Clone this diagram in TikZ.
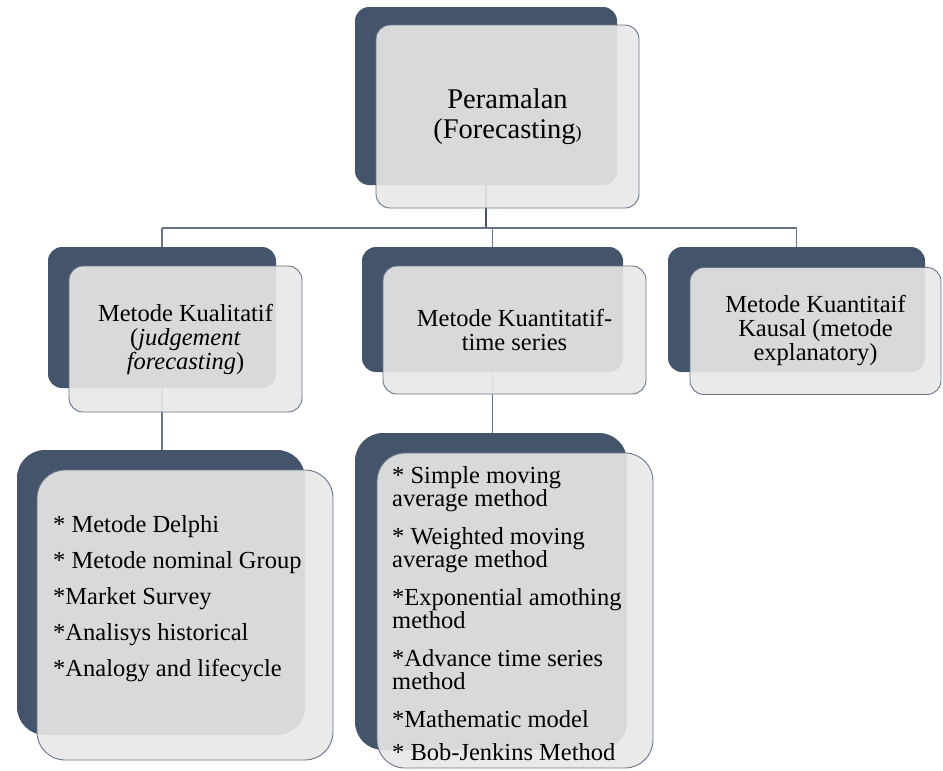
\documentclass[tikz,border=0pt]{standalone}
\usepackage{fontspec}
\setmainfont{LiberationSerif}[Extension=.ttf, UprightFont=*-Regular, ItalicFont=*-Italic, BoldFont=*-Bold]
\definecolor{slate}{RGB}{68,84,106}
\definecolor{paper}{RGB}{232,232,232}
\definecolor{rim}{RGB}{104,116,134}
\tikzset{
  backbox/.style={fill=slate, inner sep=0pt, rounded corners=14pt},
  frontbox/.style={fill=paper, fill opacity=0.9, text opacity=1, draw=rim,
    line width=0.9pt, inner sep=0pt, rounded corners=14pt, align=center,
    font=\fontsize{24.5}{24}\selectfont},
  bigcorner/.style={rounded corners=28pt},
  listtext/.style={inner sep=0pt, align=left, font=\fontsize{24.5}{23}\selectfont},
  link/.style={draw=rim, line width=1.2pt},
  stem/.style={draw=slate, line width=2.5pt}
}
\begin{document}
\begin{tikzpicture}[x=1pt, y=-1pt]
  \useasboundingbox (0,0) rectangle (943,771);
  % dark back plates
  \node[backbox, minimum width=262pt, minimum height=178pt] (root) at (486,96) {};
  \node[backbox, minimum width=228pt, minimum height=141pt] (qual) at (162,317.5) {};
  \node[backbox, minimum width=261pt, minimum height=125pt] (series) at (492.5,309.5) {};
  \node[backbox, minimum width=257pt, minimum height=125pt] (kausal) at (796.5,309.5) {};
  \node[backbox, bigcorner, minimum width=288pt, minimum height=285pt] (qualList) at (161,592.5) {};
  \node[backbox, bigcorner, minimum width=272pt, minimum height=317pt] (seriesList) at (491,591.5) {};
  % connectors
  \coordinate (bar) at (0,228);
  \draw[stem] (root.south) -- (root.south |- bar);
  \draw[link] (qual.north |- bar) -- (kausal.north |- bar);
  \draw[link] (qual.north |- bar) -- (qual.north);
  \draw[link] (series.north |- bar) -- (series.north);
  \draw[link] (kausal.north |- bar) -- (kausal.north);
  \draw[link] (qual.south) -- (qual.south |- qualList.north);
  \draw[link] (series.south) -- (series.south |- seriesList.north);
  % light front plates
  \node[frontbox, font=\fontsize{28.5}{30}\selectfont, minimum width=263pt, minimum height=183pt]
    (rootFront) at (507.5,116.5) {Peramalan\\(Forecasting{\fontsize{18}{18}\selectfont)}};
  \node[frontbox, minimum width=233pt, minimum height=146pt] (qualFront) at (185.5,339)
    {Metode Kualitatif\\(\textit{judgement}\\\textit{forecasting})};
  \node[frontbox, minimum width=263pt, minimum height=128pt] (seriesFront) at (514.5,330)
    {Metode Kuantitatif-\\time series};
  \node[frontbox, minimum width=251pt, minimum height=127pt] (kausalFront) at (815.5,331)
    {Metode Kuantitaif\\Kausal (metode\\explanatory)};
  \node[frontbox, bigcorner, minimum width=296pt, minimum height=290pt] (qualListFront) at (185,615) {};
  \node[frontbox, bigcorner, minimum width=276pt, minimum height=315pt] (seriesListFront) at (515,610.5) {};
  % item lists
  \node[listtext, anchor=north west] (qualItems) at (53,515)
    {* Metode Delphi\\[13pt]* Metode nominal Group\\[13pt]*Market Survey\\[13pt]*Analisys historical\\[13pt]*Analogy and lifecycle};
  \node[listtext, anchor=north west] (seriesItems) at (392,466)
    {* Simple moving\\average method\\[15pt]* Weighted moving\\average method\\[15pt]*Exponential amothing\\method\\[15pt]*Advance time series\\method\\[15pt]*Mathematic model\\[10pt]* Bob-Jenkins Method};
\end{tikzpicture}
\end{document}
